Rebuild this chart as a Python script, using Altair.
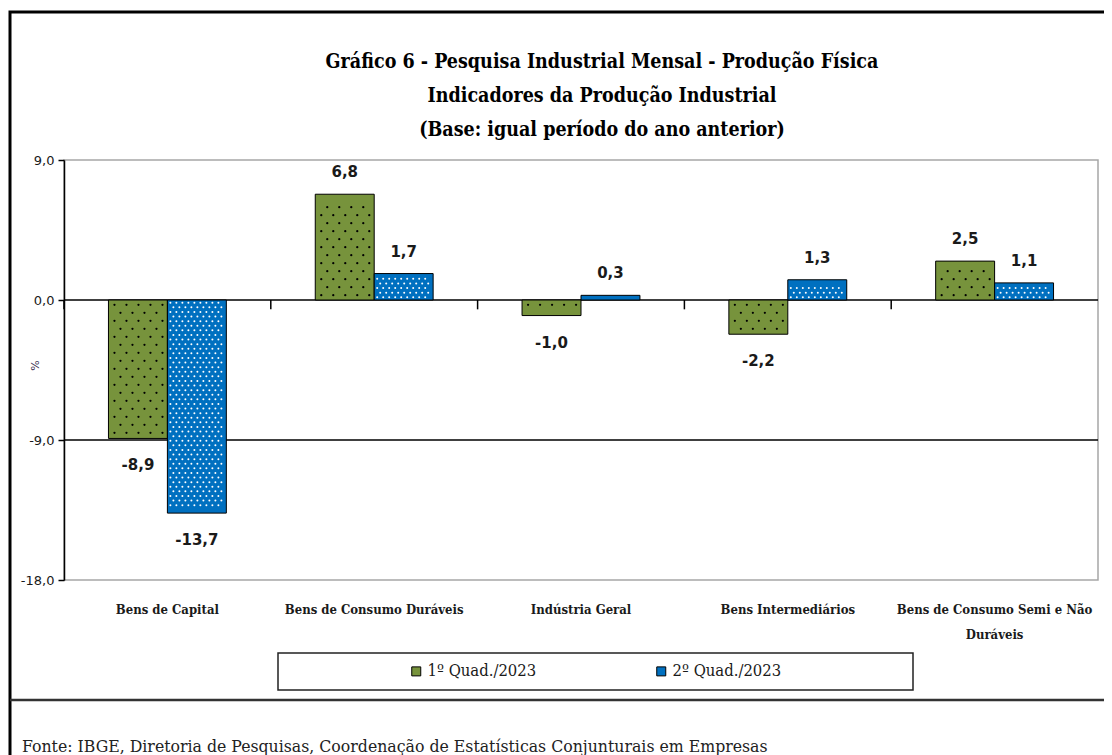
import altair as alt
import numpy as np
import pandas as pd

# ---- data ----
categories = [
    "Bens de Capital",
    "Bens de Consumo Duráveis",
    "Indústria Geral",
    "Bens Intermediários",
    "Bens de Consumo Semi e Não Duráveis",
]
series = ["1º Quad./2023", "2º Quad./2023"]
q1_2023 = [-8.9, 6.8, -1.0, -2.2, 2.5]
q2_2023 = [-13.7, 1.7, 0.3, 1.3, 1.1]
y_ticks = [9, 0, -9, -18]
y_domain = [-18, 9]
strong_lines = [0, -9]
colors = ["#77933C", "#0070C0"]
dot_colors = ["#000000", "#FFFFFF"]

title_lines = [
    "Gráfico 6 - Pesquisa Industrial Mensal - Produção Física",
    "Indicadores da Produção Industrial",
    "(Base: igual período do ano anterior)",
]
source_text = "Fonte: IBGE, Diretoria de Pesquisas, Coordenação de Estatísticas Conjunturais em Empresas"

# ---- layout (pixels) ----
W, H = 1034, 420
STEP = W / len(categories)
PAD_IN = 0.43
BAR_PX = STEP * (1 - PAD_IN) / 2
PX_PER_UNIT = H / (y_domain[1] - y_domain[0])
SERIF = "DejaVu Serif Condensed"
SANS = "DejaVu Sans"
FMT = "replace(replace(format(datum.value, '.1f'), '.', ','), '\u2212', '-')"

bars = pd.DataFrame(
    [
        {"cat": c, "series": s, "value": v}
        for s, vals in zip(series, [q1_2023, q2_2023])
        for c, v in zip(categories, vals)
    ]
)

# dotted fill texture, derived from each bar's value
dot_rows = []
texture = [(12.0, 8.0), (6.0, 4.6)]  # (horizontal, vertical) spacing per series, px
for si, (s, vals) in enumerate(zip(series, [q1_2023, q2_2023])):
    hs, vs = texture[si]
    for c, v in zip(categories, vals):
        n_rows = int((abs(v) * PX_PER_UNIT - 2) // vs)
        for r in range(n_rows):
            yv = np.sign(v) * (r + 0.6) * vs / PX_PER_UNIT
            px = hs / 2 + (r % 2) * hs / 2
            while px < BAR_PX - 2:
                dot_rows.append(
                    {"cat": c, "series": s, "y": yv, "pos": si * 0.5 + px / (2 * BAR_PX)}
                )
                px += hs
dots = pd.DataFrame(dot_rows)

x_enc = alt.X(
    "cat:N",
    sort=categories,
    scale=alt.Scale(paddingInner=PAD_IN, paddingOuter=PAD_IN / 2),
    axis=alt.Axis(
        title=None,
        domain=False,
        ticks=False,
        labelAngle=0,
        labelFont=SERIF,
        labelFontSize=13,
        labelFontWeight="bold",
        labelColor="#1a1a1a",
        labelPadding=23,
        labelLimit=400,
        labelLineHeight=25,
        labelExpr="datum.label == 'Bens de Consumo Semi e Não Duráveis' ? ['Bens de Consumo Semi e Não', 'Duráveis'] : datum.label",
    ),
)
y_scale = alt.Scale(domain=y_domain, nice=False, zero=False)

bar_layer = (
    alt.Chart(bars)
    .mark_bar(stroke="black", strokeWidth=1)
    .encode(
        x=x_enc,
        xOffset=alt.XOffset("series:N", sort=series),
        y=alt.Y(
            "value:Q",
            scale=y_scale,
            axis=alt.Axis(
                values=y_ticks,
                labelExpr=FMT,
                grid=False,
                domainColor="black",
                domainWidth=1.5,
                tickColor="black",
                tickSize=6,
                tickWidth=1.5,
                labelFont=SANS,
                labelFontSize=13,
                labelColor="#1a1a1a",
                labelPadding=4,
                title="%",
                titleFont=SANS,
                titleFontSize=11,
                titleFontWeight="normal",
                titleColor="#3a3050",
                titleX=-29,
                titleY=205,
                titleAngle=-90,
                titleAlign="center",
                titleBaseline="middle",
            ),
        ),
        y2=alt.datum(0),
        color=alt.Color(
            "series:N",
            sort=series,
            scale=alt.Scale(domain=series, range=colors),
            legend=alt.Legend(
                title=None,
                orient="none",
                legendX=344,
                legendY=503,
                direction="horizontal",
                symbolType="square",
                symbolSize=81,
                symbolStrokeColor="black",
                symbolStrokeWidth=1,
                symbolOpacity=1,
                labelFont=SERIF,
                labelFontSize=16.5,
                labelColor="#1a1a1a",
                labelOffset=3,
                columnPadding=116,
                padding=0,
            ),
        ),
    )
)

dot_layer = (
    alt.Chart(dots)
    .mark_circle(opacity=1)
    .encode(
        x=alt.X("cat:N", sort=categories),
        xOffset=alt.XOffset("pos:Q", scale=alt.Scale(domain=[0, 1])),
        y=alt.Y("y:Q", scale=y_scale),
        color=alt.Color(
            "series:N", scale=alt.Scale(domain=series, range=dot_colors), legend=None
        ),
        size=alt.Size(
            "series:N", scale=alt.Scale(domain=series, range=[5, 4]), legend=None
        ),
    )
)

label_base = (
    alt.Chart(bars)
    .transform_calculate(lbl=FMT)
    .encode(
        x=alt.X("cat:N", sort=categories),
        xOffset=alt.XOffset("series:N", sort=series),
        y=alt.Y("value:Q", scale=y_scale),
        text="lbl:N",
    )
)
lab_pos = label_base.transform_filter("datum.value >= 0").mark_text(
    font=SANS, fontSize=15, fontWeight="bold", color="#1a1a1a", baseline="middle", dy=-22
)
lab_neg = label_base.transform_filter("datum.value < 0").mark_text(
    font=SANS, fontSize=15, fontWeight="bold", color="#1a1a1a", baseline="middle", dy=27
)

lines = (
    alt.Chart(pd.DataFrame({"v": strong_lines}))
    .mark_rule(color="black", strokeWidth=1.5)
    .encode(y=alt.Y("v:Q", scale=y_scale))
)

# category-boundary ticks hanging under the zero line
BOUNDARY = -(PAD_IN / 2) / (1 - PAD_IN)
cat_ticks = (
    alt.Chart(pd.DataFrame({"cat": categories, "b": [BOUNDARY] * len(categories)}))
    .mark_rule(color="black", strokeWidth=1.5)
    .encode(
        x=alt.X("cat:N", sort=categories),
        xOffset=alt.XOffset("b:Q", scale=alt.Scale(domain=[0, 1])),
        y=alt.Y(datum=0),
        y2=alt.datum(-0.6),
    )
)

one = pd.DataFrame({"a": [0]})
title_mark = (
    alt.Chart(pd.DataFrame({"t": ["\n".join(title_lines)]}))
    .mark_text(
        font=SERIF,
        fontSize=19.5,
        fontWeight="bold",
        color="black",
        align="center",
        baseline="middle",
        lineBreak="\n",
        lineHeight=34,
    )
    .encode(x=alt.value(538), y=alt.value(-98), text="t:N")
)
outer_border = (
    alt.Chart(one)
    .mark_rect(fillOpacity=0, stroke="black", strokeWidth=3)
    .encode(x=alt.value(-54), x2=alt.value(1080), y=alt.value(-148), y2=alt.value(700))
)
separator = (
    alt.Chart(one)
    .mark_rule(color="#333333", strokeWidth=2.5)
    .encode(x=alt.value(-54), x2=alt.value(1080), y=alt.value(540))
)
legend_box = (
    alt.Chart(one)
    .mark_rect(fillOpacity=0, stroke="#222222", strokeWidth=1.5)
    .encode(x=alt.value(214), x2=alt.value(849), y=alt.value(493), y2=alt.value(530))
)
source = (
    alt.Chart(pd.DataFrame({"t": [source_text]}))
    .mark_text(font=SERIF, fontSize=17.5, align="left", baseline="alphabetic", color="#222222")
    .encode(x=alt.value(-42), y=alt.value(592), text="t:N")
)

chart = (
    alt.layer(
        lines, bar_layer, dot_layer, lab_pos, lab_neg, cat_ticks,
        title_mark, outer_border, separator, legend_box, source,
    )
    .resolve_scale(xOffset="independent", color="independent", size="independent")
    .properties(
        width=W,
        height=H,
        padding={"left": 56, "top": 152, "right": 6, "bottom": 175},
        autosize=alt.AutoSizeParams(type="none"),
    )
    .configure_view(stroke="#a6a6a6", strokeWidth=1.5)
)

chart.save("out.html", embed_options={"renderer": "svg", "actions": False})
